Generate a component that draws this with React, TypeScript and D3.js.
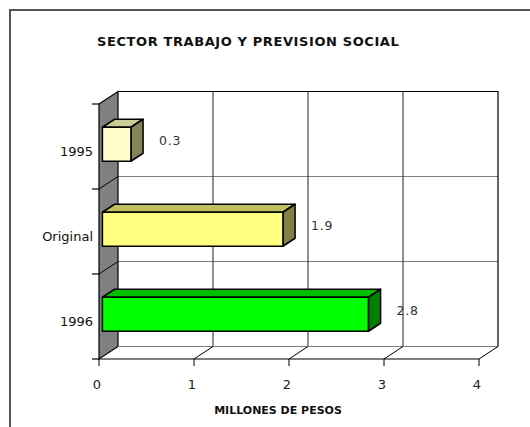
import React, { useEffect, useRef } from "react"
import * as d3 from "d3"

const categories = ["1995", "Original", "1996"]
const values = [0.3, 1.9, 2.8]
const xTicks = [0, 1, 2, 3, 4]
const title = "SECTOR TRABAJO Y PREVISION SOCIAL"
const xTitle = "MILLONES DE PESOS"

// front face / top face / side face colours for each bar
const frontColors = ["#FFFFCC", "#FFFF80", "#00FF00"]
const topColors = ["#CCCC99", "#C0C060", "#00C000"]
const sideColors = ["#838358", "#808040", "#008000"]

const W = 530
const H = 427

export default function App() {
    const ref = useRef<SVGSVGElement>(null)

    useEffect(() => {
        document.body.style.margin = "0"
        const svg = d3.select(ref.current)
        svg.selectAll("*").remove()

        const font = "DejaVu Sans, Verdana, sans-serif"
        // depth of the 3d box (walls)
        const depth = { x: 19, y: -12.5 }
        const f1 = 0.18
        const f2 = 0.82

        const x = d3.scaleLinear().domain([0, 4]).range([99, 479])
        const y = d3.scaleBand().domain(categories).range([104, 359])
        const barH = 34

        const x0 = x(0)
        const yTop = 104
        const yBot = 359

        // outer frame
        svg.append("path")
            .attr("d", `M10,${H + 2} L10,10 L${W + 2},10`)
            .attr("fill", "none")
            .attr("stroke", "#555")
            .attr("stroke-width", 2)

        svg.append("text")
            .attr("x", 97)
            .attr("y", 46)
            .attr("font-family", font)
            .attr("font-weight", "bold")
            .attr("font-size", 13)
            .attr("letter-spacing", 0.6)
            .attr("fill", "#111")
            .text(title)

        // back wall
        svg.append("rect")
            .attr("x", x0 + depth.x)
            .attr("y", yTop + depth.y)
            .attr("width", x(4) - x0)
            .attr("height", yBot - yTop)
            .attr("fill", "#fff")

        // horizontal gridlines on back wall
        const bounds = [yTop, ...categories.map(c => (y(c) as number) + y.bandwidth())]
        svg.selectAll(".hgrid")
            .data(bounds.slice(1))
            .enter()
            .append("line")
            .attr("x1", x0 + depth.x)
            .attr("x2", x(4) + depth.x)
            .attr("y1", d => d + depth.y)
            .attr("y2", d => d + depth.y)
            .attr("stroke", "#808080")
            .attr("stroke-width", 1.2)

        // vertical gridlines on back wall
        svg.selectAll(".vgrid")
            .data(xTicks.slice(1, -1))
            .enter()
            .append("line")
            .attr("x1", d => x(d) + depth.x)
            .attr("x2", d => x(d) + depth.x)
            .attr("y1", yTop + depth.y)
            .attr("y2", yBot + depth.y)
            .attr("stroke", "#222")
            .attr("stroke-width", 1)

        // back wall top and right edges
        svg.append("path")
            .attr("d", `M${x0 + depth.x},${yTop + depth.y} L${x(4) + depth.x},${yTop + depth.y} L${x(4) + depth.x},${yBot + depth.y}`)
            .attr("fill", "none")
            .attr("stroke", "#000")
            .attr("stroke-width", 1.2)

        // left wall
        svg.append("path")
            .attr("d", `M${x0},${yTop} L${x0 + depth.x},${yTop + depth.y} L${x0 + depth.x},${yBot + depth.y} L${x0},${yBot} Z`)
            .attr("fill", "#808080")
            .attr("stroke", "#000")
            .attr("stroke-width", 1.2)

        // left wall diagonals + ticks
        svg.selectAll(".ldiag")
            .data(bounds.slice(1, -1))
            .enter()
            .append("line")
            .attr("x1", x0)
            .attr("x2", x0 + depth.x)
            .attr("y1", d => d)
            .attr("y2", d => d + depth.y)
            .attr("stroke", "#000")
        svg.selectAll(".ytick")
            .data(bounds)
            .enter()
            .append("line")
            .attr("x1", x0 - 7)
            .attr("x2", x0)
            .attr("y1", d => d)
            .attr("y2", d => d)
            .attr("stroke", "#000")
            .attr("stroke-width", 1.2)

        // floor
        svg.append("line")
            .attr("x1", x0 + depth.x)
            .attr("x2", x(4) + depth.x)
            .attr("y1", yBot + depth.y)
            .attr("y2", yBot + depth.y)
            .attr("stroke", "#808080")
            .attr("stroke-width", 1.2)
        svg.selectAll(".fdiag")
            .data(xTicks.slice(1))
            .enter()
            .append("line")
            .attr("x1", d => x(d))
            .attr("x2", d => x(d) + depth.x)
            .attr("y1", yBot)
            .attr("y2", yBot + depth.y)
            .attr("stroke", "#000")
        svg.append("line")
            .attr("x1", x0)
            .attr("x2", x(4))
            .attr("y1", yBot)
            .attr("y2", yBot)
            .attr("stroke", "#000")
            .attr("stroke-width", 1.2)
        svg.selectAll(".xtick")
            .data(xTicks)
            .enter()
            .append("line")
            .attr("x1", d => x(d))
            .attr("x2", d => x(d))
            .attr("y1", yBot)
            .attr("y2", yBot + 7)
            .attr("stroke", "#000")

        // bars
        const ox = depth.x * f1
        const oy = depth.y * f1
        const bx = depth.x * (f2 - f1)
        const by = depth.y * (f2 - f1)
        categories.forEach((c, i) => {
            const v = values[i]
            const cy = (y(c) as number) + y.bandwidth() / 2 + oy
            const t = cy - barH / 2
            const b = cy + barH / 2
            const l = x0 + ox
            const r = x(v) + ox
            const g = svg.append("g")
                .attr("stroke", "#000")
                .attr("stroke-width", 1.5)
                .attr("stroke-linejoin", "round")
            g.append("path")
                .attr("d", `M${l},${t} L${l + bx},${t + by} L${r + bx},${t + by} L${r},${t} Z`)
                .attr("fill", topColors[i])
            g.append("path")
                .attr("d", `M${r},${t} L${r + bx},${t + by} L${r + bx},${b + by} L${r},${b} Z`)
                .attr("fill", sideColors[i])
            g.append("rect")
                .attr("x", l)
                .attr("y", t)
                .attr("width", r - l)
                .attr("height", b - t)
                .attr("fill", frontColors[i])

            svg.append("text")
                .attr("x", r + bx + 16)
                .attr("y", cy + 1)
                .attr("font-family", font)
                .attr("font-size", 12.5)
                .attr("letter-spacing", 0.8)
                .attr("fill", "#333")
                .text(d3.format(".1f")(v))

            svg.append("text")
                .attr("x", 93)
                .attr("y", (y(c) as number) + y.bandwidth() / 2 + 9.5)
                .attr("text-anchor", "end")
                .attr("font-family", font)
                .attr("font-size", 13)
                .attr("fill", "#111")
                .text(c)
        })

        svg.selectAll(".xlabel")
            .data(xTicks)
            .enter()
            .append("text")
            .attr("x", d => x(d) - 2)
            .attr("y", 389)
            .attr("text-anchor", "middle")
            .attr("font-family", font)
            .attr("font-size", 13)
            .attr("fill", "#222")
            .text(d => d)

        svg.append("text")
            .attr("x", 278)
            .attr("y", 414)
            .attr("text-anchor", "middle")
            .attr("font-family", font)
            .attr("font-weight", "bold")
            .attr("font-size", 11)
            .attr("fill", "#111")
            .text(xTitle)
    }, [])

    return <svg ref={ref} width={W} height={H} style={{ display: "block" }} />
}
